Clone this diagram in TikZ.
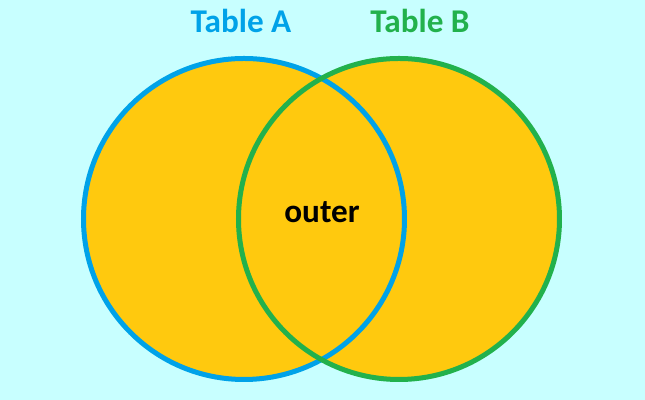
\documentclass[tikz,border=0pt]{standalone}
\usepackage{fontspec}
\setmainfont{Carlito}
\definecolor{backcyan}{HTML}{C8FFFF}
\definecolor{setfill}{HTML}{FFC90E}
\definecolor{tableblue}{HTML}{00A2E8}
\definecolor{tablegreen}{HTML}{22B14C}
\begin{document}
\begin{tikzpicture}[x=0.5pt,y=0.5pt]
\tikzset{label/.style = {font=\bfseries\fontsize{16.6}{19}\selectfont,anchor=base,inner sep=0pt}}
\tikzset{ring/.style = {line width=2.5pt}}
\fill[backcyan] (0,0) rectangle (645,400);
\useasboundingbox (0,0) rectangle (645,400);
\coordinate (ca) at (244,181);
\coordinate (cb) at (399,181);
%\draw (ca) -- (cb);
\fill[setfill] (ca) circle [radius=160.5];
\fill[setfill] (cb) circle [radius=160.5];
\draw[ring,tableblue] (ca) circle [radius=160.5];
\draw[ring,tablegreen] (cb) circle [radius=160.5];
\node[label,text=tableblue] (ta) at (241,367) {Table A};
\node[label,text=tablegreen] (tb) at (420,367) {Table B};
\node[label] (outer) at (322,177) {outer};
\end{tikzpicture}
\end{document}
